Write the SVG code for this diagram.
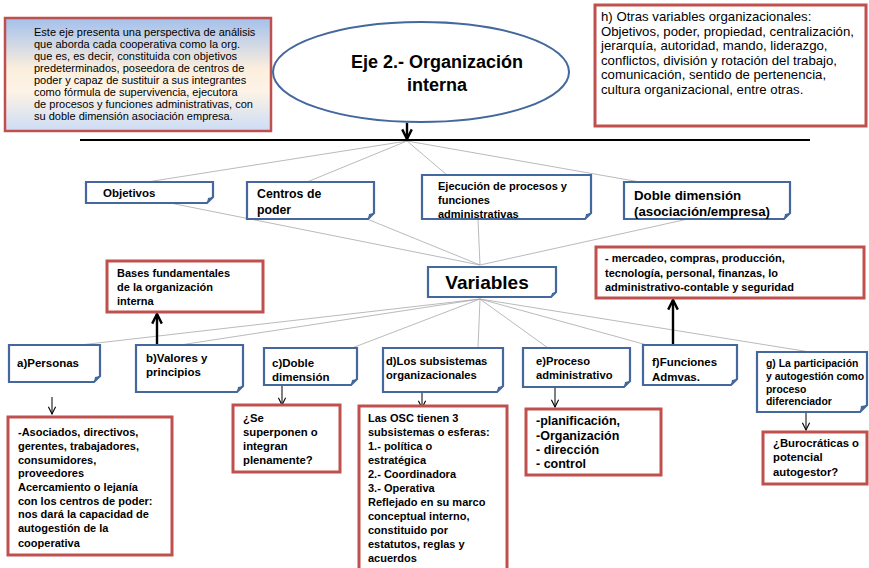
<svg xmlns="http://www.w3.org/2000/svg" width="869" height="568" viewBox="0 0 869 568">
<defs>
<linearGradient id="g1" x1="0" y1="0" x2="0" y2="1">
<stop offset="0" stop-color="#a3c0ec"/>
<stop offset="0.45" stop-color="#fbeedd"/>
<stop offset="0.65" stop-color="#fdf3e6"/>
<stop offset="1" stop-color="#cddcf5"/>
</linearGradient>
<marker id="ah" viewBox="0 0 10 10" refX="9" refY="5" markerWidth="9" markerHeight="9" markerUnits="userSpaceOnUse" orient="auto">
<path d="M1,1 L9,5 L1,9" fill="none" stroke="#000" stroke-width="1.2"/>
</marker>
<marker id="ahb" viewBox="0 0 10 10" refX="9" refY="5" markerWidth="12" markerHeight="12" markerUnits="userSpaceOnUse" orient="auto">
<path d="M1,1 L9,5 L1,9" fill="none" stroke="#000" stroke-width="2"/>
</marker>
</defs>
<style>
.t{font-family:"Liberation Sans",Arial,sans-serif;font-weight:bold;fill:#000}
.n{font-family:"Liberation Sans",Arial,sans-serif;fill:#000}
.blue{fill:#fff;stroke:#44689d;stroke-width:2.2}
.bo{fill:none;stroke:#44689d;stroke-width:2.2}
.fold{fill:#44689d}
.red{fill:#fff;stroke:#c0504d;stroke-width:3}
.gl{stroke:#a8a8a8;stroke-width:0.8;fill:none}
.ar{stroke:#000;stroke-width:1;marker-end:url(#ah)}
.arb{stroke:#000;stroke-width:2.4;marker-end:url(#ahb)}
</style>
<rect width="869" height="568" fill="#fff"/>

<g id="connectors">
<line class="gl" x1="407" y1="141" x2="147" y2="182"/>
<line class="gl" x1="407" y1="141" x2="307" y2="182"/>
<line class="gl" x1="407" y1="141" x2="447" y2="175"/>
<line class="gl" x1="407" y1="141" x2="640" y2="182"/>
<line class="gl" x1="480" y1="265" x2="155" y2="200"/>
<line class="gl" x1="480" y1="265" x2="367" y2="219"/>
<line class="gl" x1="480" y1="265" x2="478" y2="219"/>
<line class="gl" x1="480" y1="265" x2="688" y2="219"/>
<line class="gl" x1="480" y1="299" x2="80" y2="345"/>
<line class="gl" x1="480" y1="299" x2="180" y2="345"/>
<line class="gl" x1="480" y1="299" x2="352" y2="348"/>
<line class="gl" x1="480" y1="299" x2="478" y2="348"/>
<line class="gl" x1="480" y1="299" x2="548" y2="348"/>
<line class="gl" x1="480" y1="299" x2="647" y2="345"/>
<line class="gl" x1="480" y1="299" x2="810" y2="352"/>
<line x1="80" y1="140" x2="810" y2="140" stroke="#000" stroke-width="2"/>
<line class="arb" x1="407" y1="123" x2="407" y2="139"/>
<line class="arb" x1="157" y1="345" x2="157" y2="314"/>
<line class="arb" x1="673" y1="345" x2="673" y2="300"/>
<line class="ar" x1="52" y1="397" x2="52" y2="414"/>
<line class="ar" x1="282" y1="385" x2="282" y2="405"/>
<line class="ar" x1="422" y1="392" x2="422" y2="408"/>
<line class="ar" x1="555" y1="387" x2="555" y2="407"/>
<line class="ar" x1="806" y1="412" x2="806" y2="430"/>
</g>

<g id="intro">
<rect x="5" y="18" width="266" height="113" fill="url(#g1)" stroke="#c0504d" stroke-width="2.5"/>
<text class="n" font-size="11">
<tspan x="34" y="35.5">Este eje presenta una perspectiva de análisis</tspan>
<tspan x="34" y="47.5">que aborda cada cooperativa como la org.</tspan>
<tspan x="34" y="59.5">que es, es decir, constituida con objetivos</tspan>
<tspan x="34" y="71.5">predeterminados, poseedora de centros de</tspan>
<tspan x="34" y="83.5">poder y capaz de sustituir a sus integrantes</tspan>
<tspan x="34" y="95.5">como fórmula de supervivencia, ejecutora</tspan>
<tspan x="34" y="107.5">de procesos y funciones administrativas, con</tspan>
<tspan x="34" y="119.5">su  doble dimensión asociación empresa.</tspan>
</text>
</g>

<g id="eje">
<ellipse cx="421" cy="72" rx="148" ry="50" fill="#fff" stroke="#44689d" stroke-width="2"/>
<text class="t" font-size="18" text-anchor="middle"><tspan x="437" y="68">Eje 2.- Organización</tspan><tspan x="437" y="91">interna</tspan></text>
</g>

<g id="otras">
<rect x="595" y="5" width="271" height="121" fill="#fff" stroke="#c0504d" stroke-width="3"/>
<text class="n" font-size="13.2">
<tspan x="601" y="21">h) Otras variables organizacionales:</tspan>
<tspan x="601" y="35.5">Objetivos, poder, propiedad, centralización,</tspan>
<tspan x="601" y="50">jerarquía, autoridad, mando, liderazgo,</tspan>
<tspan x="601" y="64.5">conflictos, división y rotación del trabajo,</tspan>
<tspan x="601" y="79">comunicación, sentido de pertenencia,</tspan>
<tspan x="601" y="93.5">cultura organizacional, entre otras.</tspan>
</text>
</g>

<g id="objetivos">
<path class="blue" d="M86,182 H213 V197 L207,203 H86 Z"/>
<path class="fold" d="M213,197 L207,203 L208,198 Z"/>
<text class="t" font-size="11.5" x="103" y="197">Objetivos</text>
</g>

<g id="centros">
<path class="blue" d="M247,182 H374 V213 L368,219 H247 Z"/>
<path class="fold" d="M374,213 L368,219 L369,214 Z"/>
<text class="t" font-size="12.3"><tspan x="257" y="198">Centros de</tspan><tspan x="257" y="214">poder</tspan></text>
</g>

<g id="ejecucion">
<path d="M422,175 H591 V213 L585,219 H422 Z" fill="#fff"/>
<text class="t" font-size="11"><tspan x="438" y="190">Ejecución de procesos y</tspan><tspan x="438" y="204">funciones</tspan><tspan x="438" y="218">administrativas</tspan></text>
<path class="bo" d="M422,175 H591 V213 L585,219 H422 Z"/>
<path class="fold" d="M591,213 L585,219 L586,214 Z"/>
</g>

<g id="doble">
<path class="blue" d="M624,182 H790 V213 L784,219 H624 Z"/>
<path class="fold" d="M790,213 L784,219 L785,214 Z"/>
<text class="t" font-size="13.3"><tspan x="634" y="200">Doble dimensión</tspan><tspan x="634" y="216">(asociación/empresa)</tspan></text>
</g>

<g id="variables">
<path class="blue" d="M428,267 H556 V292 L551,297 H428 Z"/>
<path class="fold" d="M556,292 L551,297 L552,293 Z"/>
<text class="t" font-size="19" x="487" y="289" text-anchor="middle">Variables</text>
</g>

<g id="bases">
<rect class="red" x="107" y="261" width="156" height="51"/>
<text class="t" font-size="11"><tspan x="117" y="277">Bases fundamentales</tspan><tspan x="117" y="291">de la organización</tspan><tspan x="117" y="305">interna</tspan></text>
</g>

<g id="mercadeo">
<rect class="red" x="596" y="247" width="268" height="51"/>
<text class="t" font-size="11"><tspan x="605" y="262">- mercadeo, compras, producción,</tspan><tspan x="605" y="277">tecnología, personal, finanzas, lo</tspan><tspan x="605" y="291">administrativo-contable y seguridad</tspan></text>
</g>

<g id="personas">
<path class="blue" d="M9,345 H100 V376 L94,382 H9 Z"/>
<path class="fold" d="M100,376 L94,382 L95,377 Z"/>
<text class="t" font-size="11.5" x="17" y="367">a)Personas</text>
</g>

<g id="valores">
<path class="blue" d="M136,345 H243 V386 L237,392 H136 Z"/>
<path class="fold" d="M243,386 L237,392 L238,387 Z"/>
<text class="t" font-size="11.5"><tspan x="146" y="362">b)Valores y</tspan><tspan x="146" y="376">principios</tspan></text>
</g>

<g id="dobledim">
<path class="blue" d="M264,348 H357 V379 L351,385 H264 Z"/>
<path class="fold" d="M357,379 L351,385 L352,380 Z"/>
<text class="t" font-size="11.5"><tspan x="272" y="367">c)Doble</tspan><tspan x="272" y="381">dimensión</tspan></text>
</g>

<g id="subsistemas">
<path class="blue" d="M383,348 H503 V386 L497,392 H383 Z"/>
<path class="fold" d="M503,386 L497,392 L498,387 Z"/>
<text class="t" font-size="11.2"><tspan x="386" y="365">d)Los subsistemas</tspan><tspan x="386" y="379">organizacionales</tspan></text>
</g>

<g id="proceso">
<path class="blue" d="M523,348 H630 V381 L624,387 H523 Z"/>
<path class="fold" d="M630,381 L624,387 L625,382 Z"/>
<text class="t" font-size="11.2"><tspan x="536" y="365">e)Proceso</tspan><tspan x="536" y="379">administrativo</tspan></text>
</g>

<g id="funciones">
<path class="blue" d="M643,345 H737 V379 L731,385 H643 Z"/>
<path class="fold" d="M737,379 L731,385 L732,380 Z"/>
<text class="t" font-size="11.5"><tspan x="652" y="366">f)Funciones</tspan><tspan x="652" y="381">Admvas.</tspan></text>
</g>

<g id="participacion">
<path class="blue" d="M757,352 H867 V405 L860,412 H757 Z"/>
<path class="fold" d="M867,405 L860,412 L861,406 Z"/>
<text class="t" font-size="10.4"><tspan x="766" y="367">g) La participación</tspan><tspan x="766" y="380">y autogestión como</tspan><tspan x="766" y="393">proceso</tspan><tspan x="766" y="405">diferenciador</tspan></text>
</g>

<g id="asociados">
<rect class="red" x="8" y="417" width="164" height="138"/>
<text class="t" font-size="11"><tspan x="18" y="436">-Asociados, directivos,</tspan><tspan x="18" y="450">gerentes,  trabajadores,</tspan><tspan x="18" y="464">consumidores,</tspan><tspan x="18" y="477">proveedores</tspan><tspan x="18" y="491">Acercamiento o lejanía</tspan><tspan x="18" y="505">con los centros de poder:</tspan><tspan x="18" y="518">nos dará la capacidad de</tspan><tspan x="18" y="532">autogestión de la</tspan><tspan x="18" y="547">cooperativa</tspan></text>
</g>

<g id="superponen">
<rect class="red" x="233" y="405" width="107" height="67"/>
<text class="t" font-size="11.3"><tspan x="243" y="422">¿Se</tspan><tspan x="243" y="436">superponen o</tspan><tspan x="243" y="450">integran</tspan><tspan x="243" y="464">plenamente?</tspan></text>
</g>

<g id="osc">
<rect class="red" x="359" y="406" width="148" height="170"/>
<text class="t" font-size="11"><tspan x="368" y="422">Las OSC tienen 3</tspan><tspan x="368" y="436">subsistemas o esferas:</tspan><tspan x="368" y="450">1.-  política o</tspan><tspan x="368" y="464">estratégica</tspan><tspan x="368" y="478">2.- Coordinadora</tspan><tspan x="368" y="492">3.- Operativa</tspan><tspan x="368" y="506">Reflejado en su marco</tspan><tspan x="368" y="520">conceptual interno,</tspan><tspan x="368" y="534">constituido por</tspan><tspan x="368" y="548">estatutos, reglas y</tspan><tspan x="368" y="562">acuerdos</tspan></text>
</g>

<g id="planificacion">
<rect class="red" x="526" y="409" width="135" height="66"/>
<text class="t" font-size="12.5"><tspan x="536" y="425">-planificación,</tspan><tspan x="536" y="439.5">-Organización</tspan><tspan x="536" y="454">- dirección</tspan><tspan x="536" y="468">- control</tspan></text>
</g>

<g id="burocraticas">
<rect class="red" x="763" y="432" width="104" height="52"/>
<text class="t" font-size="11.3"><tspan x="773" y="447">¿Burocráticas o</tspan><tspan x="773" y="461">potencial</tspan><tspan x="773" y="476">autogestor?</tspan></text>
</g>
</svg>
